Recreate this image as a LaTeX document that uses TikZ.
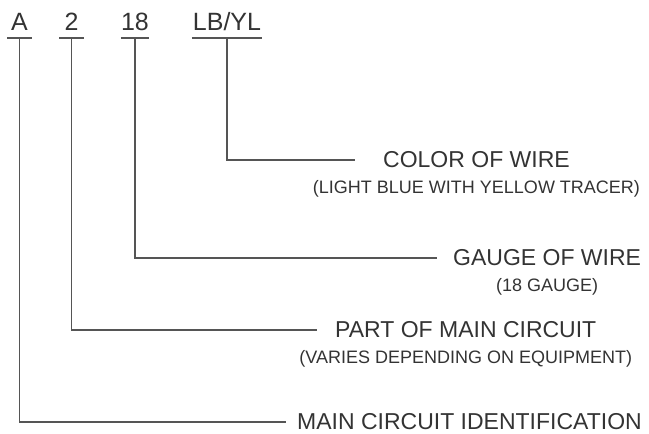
\documentclass[tikz,border=0pt]{standalone}
\usepackage{fontspec}
\setmainfont{Liberation Sans}
\usepackage{xcolor}
\usepackage{tikz}
\usetikzlibrary{positioning}
\definecolor{inkgray}{HTML}{333333}
\definecolor{linegray}{HTML}{555555}

\begin{document}
\begin{tikzpicture}[x=1pt, y=-1pt,
    code/.style={font=\fontsize{25}{30}\selectfont, text=inkgray, inner sep=0pt, text height=18pt, text depth=8pt, minimum width=24pt, anchor=base},
    title/.style={font=\fontsize{23}{28}\selectfont, text=inkgray, inner sep=0pt, anchor=west},
    note/.style={font=\fontsize{18}{22}\selectfont, text=inkgray, inner sep=0pt},
    lead/.style={draw=linegray, line width=1.6pt}
]
\useasboundingbox (0,0) rectangle (649,434);

\node[code] (codeA) at (19.5,30) {A};
\node[code] (code2) at (71.5,30) {2};
\node[code] (code18) at (135,30) {18};
\node[code, minimum width=70pt] (codeLB) at (227,30) {LB/YL};

\node[title] (colorT) at (383,160) {COLOR OF WIRE};
\node[note, below=12pt of colorT] (colorN) {(LIGHT BLUE WITH YELLOW TRACER)};
\node[title] (gaugeT) at (453,258) {GAUGE OF WIRE};
\node[note, below=12pt of gaugeT] (gaugeN) {(18 GAUGE)};
\node[title] (partT) at (335,330) {PART OF MAIN CIRCUIT};
\node[note, below=12pt of partT] (partN) {(VARIES DEPENDING ON EQUIPMENT)};
\node[title] (mainT) at (297,422) {MAIN CIRCUIT IDENTIFICATION};

\draw[lead] (codeA.south west) -- (codeA.south east);
\draw[lead] (code2.south west) -- (code2.south east);
\draw[lead] (code18.south west) -- (code18.south east);
\draw[lead] (codeLB.south west) -- (codeLB.south east);

\draw[lead, shorten >=28pt] (codeLB.south) |- (colorT.west);
\draw[lead, shorten >=16pt] (code18.south) |- (gaugeT.west);
\draw[lead, shorten >=18pt] (code2.south) |- (partT.west);
\draw[lead, shorten >=11pt] (codeA.south) |- (mainT.west);
\end{tikzpicture}
\end{document}
